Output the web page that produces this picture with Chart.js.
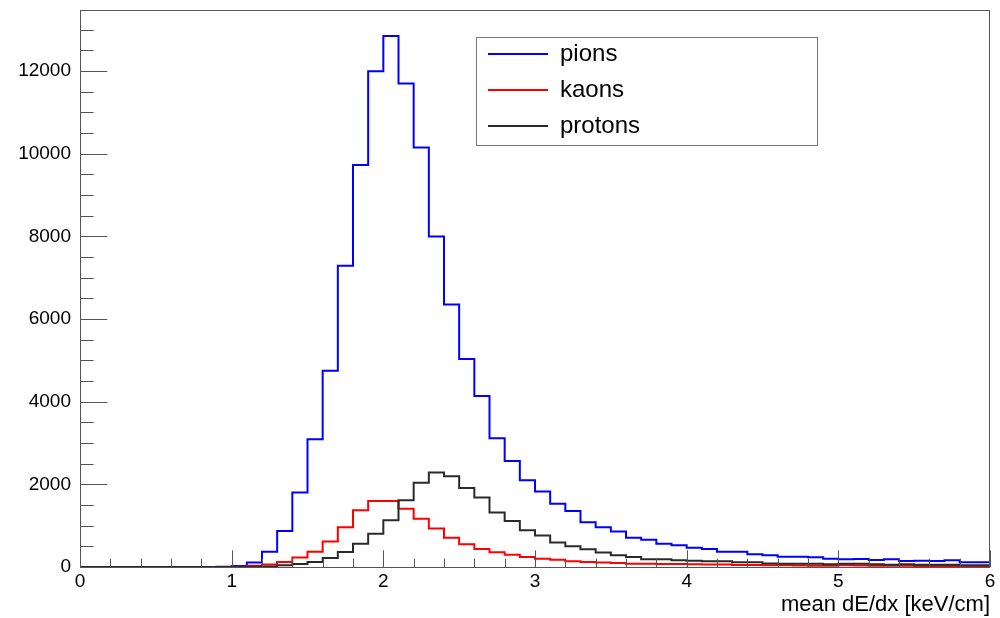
<!DOCTYPE html>
<html>
<head>
<meta charset="utf-8">
<script src="https://cdn.jsdelivr.net/npm/chart.js@4.4.1/dist/chart.umd.min.js"></script>
<style>
  html, body { margin: 0; padding: 0; background: #fff; }
  #wrap { width: 1000px; height: 618px; }
</style>
</head>
<body>
<div id="wrap"><canvas id="dedxChart" width="1000" height="618"></canvas></div>
<script>
// histogram binning: 60 bins from 0 to 6 keV/cm
const nBins = 60;
const xMin = 0;
const xMax = 6;

const seriesNames = ['pions', 'kaons', 'protons'];

// counts per bin
const pions = [
  0, 0, 0, 0, 0, 0, 0, 0, 3, 8,
  25, 110, 370, 870, 1800, 3090, 4750, 7290, 9730, 12000,
  12850, 11700, 10150, 8000, 6350, 5035, 4140, 3115, 2565, 2100,
  1825, 1530, 1355, 1080, 965, 860, 710, 660, 560, 524,
  468, 436, 371, 371, 306, 282, 250, 250, 234, 202,
  185, 194, 169, 185, 145, 153, 145, 161, 113, 113
];
const kaons = [
  0, 0, 0, 0, 0, 0, 0, 0, 0, 0,
  8, 30, 60, 120, 230, 370, 615, 960, 1375, 1600,
  1600, 1410, 1170, 930, 710, 548, 435, 355, 298, 242,
  202, 177, 137, 121, 110, 95, 81, 78, 73, 70,
  65, 60, 58, 50, 48, 42, 40, 34, 32, 32,
  45, 35, 30, 30, 28, 26, 25, 24, 22, 20
];
const protons = [
  0, 0, 0, 0, 0, 0, 0, 0, 0, 0,
  0, 5, 15, 40, 70, 120, 215, 363, 565, 807,
  1130, 1615, 2040, 2290, 2195, 1910, 1680, 1320, 1113, 890,
  760, 590, 505, 430, 350, 282, 242, 190, 185, 161,
  153, 137, 137, 113, 113, 85, 81, 81, 78, 65,
  81, 78, 65, 56, 65, 56, 55, 54, 40, 40
];

// y axis labels
const yTickLabels = [0, 2000, 4000, 6000, 8000, 10000, 12000];

const yMinorStep = 500;
const xTickStep = 1;
const xMinorStep = 0.2;
const yMax = 13480;

// turn bin contents into step points (left edges + closing right edge)
function histPoints(counts) {
  const w = (xMax - xMin) / nBins;
  const pts = counts.map((c, i) => ({ x: xMin + i * w, y: c }));
  pts.push({ x: xMax, y: counts[counts.length - 1] });
  return pts;
}

function onStep(v, step) {
  return Math.abs(v / step - Math.round(v / step)) < 1e-6;
}

const FONT = '"Liberation Sans", Arial, Helvetica, sans-serif';

// frame, inside ticks and legend box, ROOT style
const rootFrame = {
  id: 'rootFrame',
  afterDatasetsDraw(chart) {
    const { ctx, chartArea: a, scales } = chart;
    const xs = scales.x, ys = scales.y;
    ctx.save();
    ctx.strokeStyle = '#555';
    ctx.lineWidth = 1;
    ctx.strokeRect(a.left + 0.5, a.top + 0.5, a.right - a.left - 1, a.bottom - a.top);

    // y ticks, pointing into the pad
    const yLong = 0.03 * (a.right - a.left);
    ctx.beginPath();
    for (let v = 0; v <= yMax; v += yMinorStep) {
      const py = Math.round(ys.getPixelForValue(v)) + 0.5;
      const len = yTickLabels.includes(v) ? yLong : yLong / 2;
      ctx.moveTo(a.left, py);
      ctx.lineTo(a.left + len, py);
    }
    // x ticks
    const xLong = 0.03 * (a.bottom - a.top);
    for (let i = 0; i <= Math.round((xMax - xMin) / xMinorStep); i++) {
      const v = xMin + i * xMinorStep;
      const px = Math.round(xs.getPixelForValue(v)) + 0.5;
      const len = onStep(v, xTickStep) ? xLong : xLong / 2;
      ctx.moveTo(px, a.bottom);
      ctx.lineTo(px, a.bottom - len);
    }
    ctx.stroke();

    // legend
    const lx = 476, ly = 37, lw = 341, lh = 108;
    ctx.fillStyle = '#fff';
    ctx.fillRect(lx, ly, lw, lh);
    ctx.strokeStyle = '#777';
    ctx.strokeRect(lx + 0.5, ly + 0.5, lw, lh);
    ctx.font = '24px ' + FONT;
    ctx.textBaseline = 'middle';
    ctx.textAlign = 'left';
    chart.data.datasets.forEach((ds, i) => {
      const ey = ly + 17 + i * 36;
      ctx.strokeStyle = ds.borderColor;
      ctx.lineWidth = 2;
      ctx.beginPath();
      ctx.moveTo(lx + 12, ey);
      ctx.lineTo(lx + 72, ey);
      ctx.stroke();
      ctx.fillStyle = '#000';
      ctx.fillText(ds.label, lx + 84, ey);
    });
    ctx.restore();
  }
};

const colors = ['#0000ff', '#ff0000', '#2a2a2a'];
const allCounts = [pions, kaons, protons];

const data = {
  datasets: seriesNames.map((name, i) => ({
    label: name,
    data: histPoints(allCounts[i]),
    borderColor: colors[i],
    borderWidth: 2,
    pointRadius: 0,
    fill: false,
    stepped: 'before',
    order: allCounts.length - i
  }))
};

var ctx = document.getElementById('dedxChart').getContext('2d');

var myChart = new Chart(ctx, {
  type: 'line',
  data: data,
  plugins: [rootFrame],
  options: {
    responsive: false,
    animation: false,
    layout: { padding: { top: 10, right: 10, left: 0, bottom: 0 } },
    plugins: { legend: { display: false }, tooltip: { enabled: false } },
    scales: {
      x: {
        type: 'linear',
        min: xMin,
        max: xMax,
        grid: { display: false, drawTicks: false },
        border: { display: false },
        ticks: { stepSize: xTickStep, padding: 3, color: '#000', font: { size: 19, family: FONT } },
        title: {
          display: true,
          text: 'mean dE/dx [keV/cm]',
          align: 'end',
          color: '#000',
          padding: { top: 0, bottom: 0 },
          font: { size: 22, family: FONT }
        },
        afterFit(scale) {
          scale.height = 51;
          scale.paddingLeft = 0;
          scale.paddingRight = 0;
        }
      },
      y: {
        type: 'linear',
        min: 0,
        max: yMax,
        grid: { display: false, drawTicks: false },
        border: { display: false },
        ticks: {
          autoSkip: false,
          padding: 9,
          color: '#000',
          font: { size: 19, family: FONT },
          callback: (v) => String(v)
        },
        afterBuildTicks(scale) {
          scale.ticks = yTickLabels.map(v => ({ value: v }));
        },
        afterFit(scale) {
          scale.width = 80;
          scale.paddingTop = 0;
          scale.paddingBottom = 0;
        }
      }
    }
  }
});
</script>
</body>
</html>
